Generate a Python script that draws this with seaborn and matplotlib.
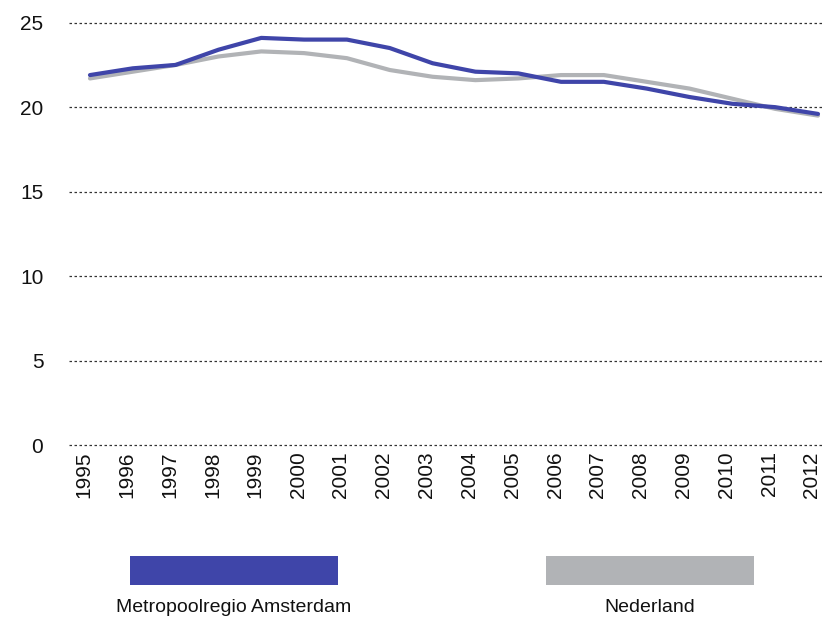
"""Lijngrafiek: Metropoolregio Amsterdam vs Nederland, 1995-2012."""

import matplotlib
matplotlib.use("Agg")
import matplotlib.pyplot as plt
import matplotlib.transforms as mtransforms
import pandas as pd
import seaborn as sns
from matplotlib.patches import Rectangle

jaren = list(range(1995, 2013))
mra = [21.9, 22.3, 22.5, 23.4, 24.1, 24.0, 24.0, 23.5, 22.6, 22.1,
       22.0, 21.5, 21.5, 21.1, 20.6, 20.2, 20.0, 19.6]
nederland = [21.7, 22.1, 22.5, 23.0, 23.3, 23.2, 22.9, 22.2, 21.8, 21.6,
             21.7, 21.9, 21.9, 21.5, 21.1, 20.5, 19.9, 19.5]
reeksen = ["Metropoolregio Amsterdam", "Nederland"]
kleuren = {"Metropoolregio Amsterdam": "#3F45A9", "Nederland": "#B1B3B6"}
y_ticks = [0, 5, 10, 15, 20, 25]

sns.set_theme(style="white")
plt.rcParams["font.family"] = ["Liberation Sans", "DejaVu Sans"]

df = pd.DataFrame({
    "jaar": jaren * 2,
    "waarde": mra + nederland,
    "reeks": [reeksen[0]] * len(jaren) + [reeksen[1]] * len(jaren),
})

W, H = 823, 619
fig = plt.figure(figsize=(W / 100, H / 100), dpi=100)
ax = fig.add_axes([69 / W, 1 - 447 / H, 754 / W, 427 / H])

# grijs eerst, zodat blauw erboven ligt
for naam in reversed(reeksen):
    sns.lineplot(
        data=df[df["reeks"] == naam],
        x="jaar",
        y="waarde",
        color=kleuren[naam],
        linewidth=3,
        ax=ax,
        legend=False,
    )

ax.set_xlim(1994.51, 2012.117)
ax.set_ylim(-0.118, 25.16)
ax.set_yticks(y_ticks)
ax.set_xticks(jaren)
ax.set_xticklabels([str(j) for j in jaren], rotation=90)
ax.tick_params(axis="y", length=0, pad=18.5, labelsize=15, colors="#111111")
ax.tick_params(axis="x", length=0, pad=3, labelsize=15, colors="#111111")
# jaarlabels staan iets links van de datapunten
verschuif = mtransforms.ScaledTranslation(-6 / 100, 0, fig.dpi_scale_trans)
for lbl in ax.get_xticklabels():
    lbl.set_transform(lbl.get_transform() + verschuif)
ax.grid(axis="y", linestyle=(0, (2, 2)), color="#333333", linewidth=0.9)
ax.grid(axis="x", visible=False)
ax.set_axisbelow(True)
for sp in ax.spines.values():
    sp.set_visible(False)
ax.set_xlabel("")
ax.set_ylabel("")

# legenda: brede blokken met tekst eronder
legenda = [(130, reeksen[0]), (546, reeksen[1])]
for x0, naam in legenda:
    fig.patches.append(Rectangle(
        (x0 / W, 1 - 585 / H), 208 / W, 29 / H,
        transform=fig.transFigure, color=kleuren[naam], lw=0,
    ))
    fig.text((x0 + 104) / W, 1 - 607 / H, naam, ha="center",
             va="center", fontsize=14, color="#111111")

fig.savefig("out.png", dpi=100)
